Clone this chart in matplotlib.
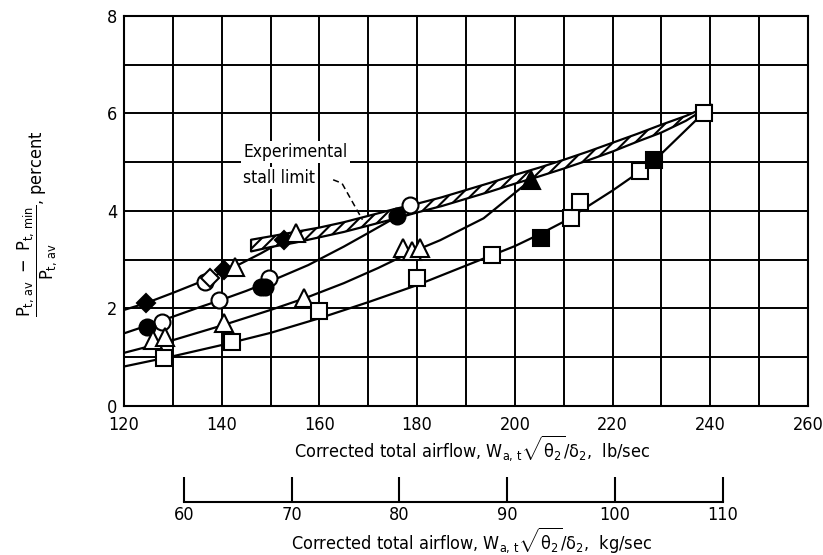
import matplotlib
matplotlib.use('Agg')
import matplotlib.pyplot as plt
import numpy as np

plt.rcParams['font.family'] = ['DejaVu Sans']
plt.rcParams['font.stretch'] = 'condensed'
plt.rcParams['mathtext.fontset'] = 'custom'
plt.rcParams['mathtext.rm'] = 'DejaVu Sans:stretch=condensed'
plt.rcParams['mathtext.it'] = 'DejaVu Sans:stretch=condensed'
plt.rcParams['mathtext.bf'] = 'DejaVu Sans:stretch=condensed:weight=bold'
plt.rcParams['hatch.linewidth'] = 1.5

LB_PER_KG = 2.20462

# faired curves, airflow in lb/sec vs distortion in percent
curve1_x = [120, 124.5, 130, 137, 143.3, 148, 153, 155.5]
curve1_y = [1.97, 2.11, 2.32, 2.60, 2.89, 3.13, 3.41, 3.53]

curve2_x = [120, 128, 135, 140, 145, 150, 157.7, 165, 170, 175.8, 178]
curve2_y = [1.49, 1.76, 2.01, 2.18, 2.36, 2.56, 2.89, 3.27, 3.55, 3.88, 4.00]

curve3_x = [120, 130, 140, 150, 157, 165, 172, 178, 184.7, 193.6, 203.3]
curve3_y = [1.09, 1.35, 1.65, 1.97, 2.21, 2.52, 2.83, 3.12, 3.40, 3.85, 4.64]

curve4_x = [120, 130, 140, 150, 160, 170, 180, 190, 200, 205, 210, 215, 220, 225.6, 228.4, 238.7]
curve4_y = [0.81, 1.02, 1.25, 1.50, 1.80, 2.13, 2.48, 2.88, 3.28, 3.52, 3.78, 4.10, 4.42, 4.81, 5.02, 6.02]

# experimental stall limit band
band_x = [146, 150, 155, 160, 165, 170, 175, 180, 185, 190, 195, 200, 205, 210, 215, 220, 225, 230, 235, 240.3]
band_lo = [3.17, 3.26, 3.35, 3.46, 3.57, 3.70, 3.83, 3.97, 4.10, 4.25, 4.40, 4.56, 4.71, 4.87, 5.04, 5.22, 5.42, 5.61, 5.85, 6.18]
band_hi = [3.41, 3.48, 3.57, 3.66, 3.77, 3.90, 4.03, 4.15, 4.28, 4.43, 4.58, 4.74, 4.89, 5.05, 5.22, 5.40, 5.58, 5.77, 5.95, 6.18]

# test points
open_circle_x = [127.7, 136.6, 139.4, 149.7, 178.6]
open_circle_y = [1.73, 2.55, 2.18, 2.63, 4.13]
solid_circle_x = [124.6, 148.0, 148.8, 175.8]
solid_circle_y = [1.63, 2.45, 2.45, 3.89]
open_diamond_x = [137.6]
open_diamond_y = [2.62]
solid_diamond_x = [124.5, 140.4, 152.8]
solid_diamond_y = [2.11, 2.79, 3.41]
open_triangle_x = [126.0, 128.4, 140.4, 142.7, 155.2, 156.9, 177.2, 178.9, 180.6]
open_triangle_y = [1.36, 1.41, 1.70, 2.86, 3.55, 2.22, 3.24, 3.17, 3.24]
solid_triangle_x = [203.3]
solid_triangle_y = [4.64]
open_square_x = [128.2, 142.1, 160.0, 179.9, 195.4, 211.5, 213.3, 225.6, 238.7]
open_square_y = [0.98, 1.32, 1.94, 2.62, 3.10, 3.85, 4.19, 4.81, 6.02]
solid_square_x = [205.4, 228.4]
solid_square_y = [3.44, 5.05]

lb_ticks = np.arange(120, 261, 20)
kg_ticks = np.arange(60, 111, 10)

fig = plt.figure(figsize=(8.23, 5.55), dpi=100)
ax_left, ax_bottom, ax_w, ax_h = 0.1507, 0.2685, 0.8311, 0.7027
ax = fig.add_axes([ax_left, ax_bottom, ax_w, ax_h])

ax.set_xlim(120, 260)
ax.set_ylim(0, 8)
ax.set_xticks(lb_ticks)
ax.set_xticks(np.arange(120, 261, 10), minor=True)
ax.set_yticks(np.arange(0, 9, 2))
ax.set_yticks(np.arange(0, 9, 1), minor=True)
ax.grid(True, which='both', color='black', linewidth=1.4)
ax.set_axisbelow(True)
ax.tick_params(which='both', length=0, labelsize=13)
ax.tick_params(axis='x', pad=7)
ax.tick_params(axis='y', pad=5)
for s in ax.spines.values():
    s.set_linewidth(1.5)

line_kw = dict(color='black', linewidth=1.6, zorder=3)
ax.plot(curve1_x, curve1_y, **line_kw)
ax.plot(curve2_x, curve2_y, **line_kw)
ax.plot(curve3_x, curve3_y, **line_kw)
ax.plot(curve4_x, curve4_y, **line_kw)

ax.fill_between(band_x, band_lo, band_hi, facecolor='white', edgecolor='black',
                hatch='///', linewidth=1.6, zorder=4)

mk = dict(linestyle='none', markeredgecolor='black', markeredgewidth=1.5, zorder=5)
ax.plot(open_circle_x, open_circle_y, 'o', markersize=11.5, markerfacecolor='white', **mk)
ax.plot(solid_circle_x, solid_circle_y, 'o', markersize=11.5, markerfacecolor='black', **mk)
ax.plot(open_diamond_x, open_diamond_y, 'D', markersize=9, markerfacecolor='white', **mk)
ax.plot(solid_diamond_x, solid_diamond_y, 'D', markersize=9, markerfacecolor='black', **mk)
ax.plot(open_triangle_x, open_triangle_y, '^', markersize=12.5, markerfacecolor='white', **mk)
ax.plot(solid_triangle_x, solid_triangle_y, '^', markersize=12.5, markerfacecolor='black', **mk)
ax.plot(open_square_x, open_square_y, 's', markersize=11, markerfacecolor='white', **mk)
ax.plot(solid_square_x, solid_square_y, 's', markersize=11, markerfacecolor='black', **mk)

# label for the stall band with a dashed leader
box = dict(facecolor='white', edgecolor='none', pad=1.5)
ax.text(144.4, 5.21, 'Experimental', fontsize=12.5, ha='left', va='center', bbox=box, zorder=6)
ax.text(144.4, 4.68, 'stall limit', fontsize=12.5, ha='left', va='center', bbox=box, zorder=6)
ax.plot([162.8, 164.6, 168.8], [4.64, 4.57, 3.82], color='black', linewidth=1.1,
        linestyle=(0, (4, 2.5)), zorder=6)

fig.text(0.045, 1 - 224 / 555,
         r'$\dfrac{P_{t,\,av}\ -\ P_{t,\,min}}{P_{t,\,av}}$, percent',
         fontsize=13, rotation=90, ha='center', va='center')

fig.text(472 / 823, 1 - 448 / 555,
         r'Corrected total airflow, $W_{a,\,t}\sqrt{\theta_2}/\delta_2$,  lb/sec',
         fontsize=13, ha='center', va='center')

# metric scale under the main axis
kg_ax = fig.add_axes([ax_left, 1 - 502 / 555, ax_w, 0.05])
kg_ax.set_xlim(120 / LB_PER_KG, 260 / LB_PER_KG)
kg_ax.set_ylim(0, 1)
kg_ax.patch.set_visible(False)
for s in ['top', 'left', 'right']:
    kg_ax.spines[s].set_visible(False)
kg_ax.spines['bottom'].set_bounds(60, 110)
kg_ax.spines['bottom'].set_linewidth(1.5)
kg_ax.set_xticks(kg_ticks)
kg_ax.set_yticks([])
kg_ax.tick_params(axis='x', direction='in', length=18, width=1.5, pad=3, labelsize=13)

fig.text(472 / 823, 1 - 540 / 555,
         r'Corrected total airflow, $W_{a,\,t}\sqrt{\theta_2}/\delta_2$,  kg/sec',
         fontsize=13, ha='center', va='center')

fig.savefig('out.png', dpi=100)
